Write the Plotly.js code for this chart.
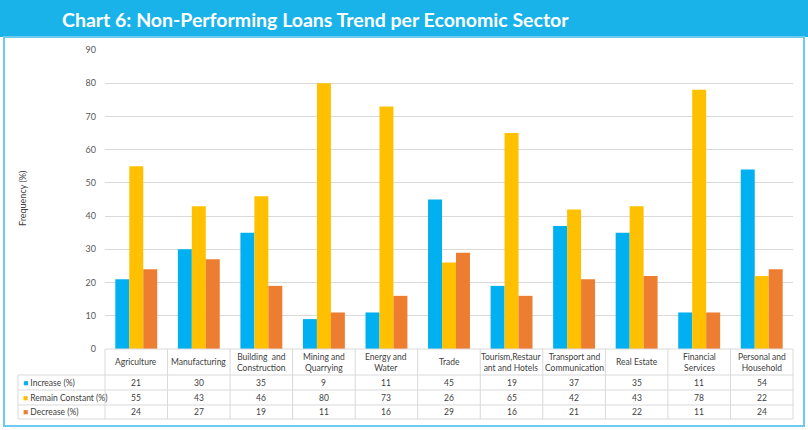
<!DOCTYPE html>
<html><head><meta charset="utf-8">
<script src="https://cdn.plot.ly/plotly-3.0.1.min.js"></script>
<style>html,body{margin:0;padding:0;background:#fff;}#chart{width:808px;height:430px;}</style>
</head><body><div id="chart"></div>
<script>
const chartTitle = "Chart 6: Non-Performing Loans Trend per Economic Sector";
const categories = ["Agriculture","Manufacturing","Building and Construction","Mining and Quarrying","Energy and Water","Trade","Tourism,Restaurant and Hotels","Transport and Communication","Real Estate","Financial Services","Personal and Household"];
const headerLabels = ["Agriculture","Manufacturing","Building  and<br>Construction","Mining and<br>Quarrying","Energy and<br>Water","Trade","Tourism,Restaur<br>ant and Hotels","Transport and<br>Communication","Real Estate","Financial<br>Services","Personal and<br>Household"];
const seriesNames = ["Increase (%)","Remain Constant (%)","Decrease (%)"];
const increase = [21,30,35,9,11,45,19,37,35,11,54];
const remainConstant = [55,43,46,80,73,26,65,42,43,78,22];
const decrease = [24,27,19,11,16,29,16,21,22,11,24];
const yTicks = [0,10,20,30,40,50,60,70,80,90];
const yAxisTitle = "Frequency (%)";

const colors = ["#00b0f0","#ffc000","#ed7d31"];
const series = [increase, remainConstant, decrease];

const W = 808, H = 430, L = 105, R = 15, T = 50, B = 81;
const pw = W - L - R, ph = H - T - B;
const px = x => (x - L) / pw;           // pixel x -> paper
const py = y => (H - B - y) / ph;        // pixel y -> paper

const traces = series.map((vals, i) => ({
  type: "bar", name: seriesNames[i], x: categories, y: vals,
  marker: {color: colors[i]}, hoverinfo: "x+y+name"
}));

const shapes = [];
const annotations = [];
const gridCol = "#d9d9d9";
const textCol = "#404040";
const fnt = "Lato, sans-serif";
const tsz = 8.5;
const n = categories.length;
const colW = pw / n;
const rowY = [349, 375, 390, 405, 419];

// title bar
shapes.push({type:"rect", xref:"paper", yref:"paper", x0:px(0), x1:px(808), y0:py(0), y1:py(37), fillcolor:"#19b3ea", line:{width:0}, layer:"below"});
// frame
shapes.push({type:"rect", xref:"paper", yref:"paper", x0:px(4), x1:px(804), y0:py(37), y1:py(426), fillcolor:"rgba(0,0,0,0)", line:{color:"#6ecbef", width:2}});
annotations.push({xref:"paper", yref:"paper", x:px(60), y:py(19), xanchor:"left", yanchor:"middle", showarrow:false, text:"<b>"+chartTitle+"</b>", font:{family:fnt, size:19.5, color:"#ffffff"}});

// table horizontal lines
shapes.push({type:"line", xref:"paper", yref:"paper", x0:px(L), x1:px(L+pw), y0:py(rowY[0]), y1:py(rowY[0]), line:{color:gridCol, width:1}});
for (let k = 1; k < rowY.length; k++) {
  shapes.push({type:"line", xref:"paper", yref:"paper", x0:px(18), x1:px(L+pw), y0:py(rowY[k]), y1:py(rowY[k]), line:{color:gridCol, width:1}});
}
// vertical lines
for (let k = 0; k <= n; k++) {
  const xx = L + k*colW;
  shapes.push({type:"line", xref:"paper", yref:"paper", x0:px(xx), x1:px(xx), y0:py(rowY[0]), y1:py(rowY[4]), line:{color:gridCol, width:1}});
}
shapes.push({type:"line", xref:"paper", yref:"paper", x0:px(18), x1:px(18), y0:py(rowY[1]), y1:py(rowY[4]), line:{color:gridCol, width:1}});

// header labels
headerLabels.forEach((lab, i) => {
  annotations.push({xref:"x", yref:"paper", x:categories[i], y:py((rowY[0]+rowY[1])/2), xanchor:"center", yanchor:"middle", showarrow:false, text:lab, font:{family:fnt, size:tsz, color:textCol}});
});
// rows
series.forEach((vals, s) => {
  const yc = py((rowY[s+1]+rowY[s+2])/2);
  annotations.push({xref:"paper", yref:"paper", x:px(21), y:yc, xanchor:"left", yanchor:"middle", showarrow:false,
    text:"<span style='color:"+colors[s]+"'>■</span> "+seriesNames[s], font:{family:fnt, size:tsz, color:textCol}});
  vals.forEach((v, i) => {
    annotations.push({xref:"x", yref:"paper", x:categories[i], y:yc, xanchor:"center", yanchor:"middle", showarrow:false, text:String(v), font:{family:fnt, size:tsz, color:textCol}});
  });
});
// y axis title
annotations.push({xref:"paper", yref:"paper", x:px(22), y:py(199), xanchor:"center", yanchor:"middle", textangle:-90, showarrow:false, text:yAxisTitle, font:{family:fnt, size:9, color:textCol}});

const layout = {
  width: W, height: H,
  margin: {l:L, r:R, t:T, b:B, pad:0},
  paper_bgcolor:"#ffffff", plot_bgcolor:"#ffffff",
  showlegend:false, barmode:"group", bargap:0.33, bargroupgap:0,
  font:{family:fnt, size:9, color:"#595959"},
  xaxis:{type:"category", showticklabels:false, showgrid:false, zeroline:false, showline:false, ticks:"", fixedrange:true},
  yaxis:{range:[0,90], tickvals:yTicks, showgrid:true, gridcolor:gridCol, gridwidth:1, zeroline:false, showline:false, ticks:"", ticklabelstandoff:8, tickfont:{size:9, color:"#595959"}, fixedrange:true},
  shapes: shapes, annotations: annotations
};
Plotly.newPlot("chart", traces, layout, {displayModeBar:false, staticPlot:true});
</script></body></html>
